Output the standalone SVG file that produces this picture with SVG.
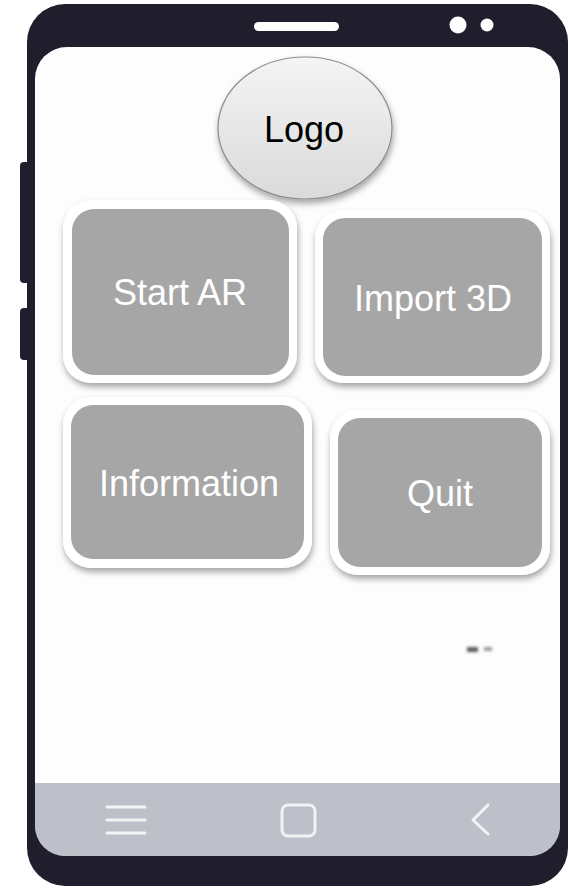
<svg xmlns="http://www.w3.org/2000/svg" width="569" height="888" viewBox="0 0 569 888">
  <defs>
    <linearGradient id="logoFill" x1="0" y1="0" x2="0" y2="1">
      <stop offset="0" stop-color="#f4f4f4"/>
      <stop offset="1" stop-color="#dadada"/>
    </linearGradient>
    <filter id="softShadow" x="-20%" y="-20%" width="140%" height="150%">
      <feDropShadow dx="1" dy="4" stdDeviation="3" flood-color="#000" flood-opacity="0.35"/>
    </filter>
    <filter id="smudge" x="-50%" y="-100%" width="200%" height="300%">
      <feGaussianBlur stdDeviation="1.5"/>
    </filter>
    <clipPath id="screenClip">
      <rect x="35" y="47" width="525" height="809" rx="30"/>
    </clipPath>
    <style>
      .frame { fill: #201e2c; }
      .btn-outer { fill: #ffffff; filter: url(#softShadow); }
      .btn-inner { fill: #a6a6a6; }
      .btn-label { font-family: "Liberation Sans", Arial, sans-serif; font-size: 36px; fill: #ffffff; text-anchor: middle; }
      .nav-icon { fill: none; stroke: #f2f3f5; stroke-width: 3; stroke-linecap: round; stroke-linejoin: round; }
    </style>
  </defs>

  <!-- phone body -->
  <g id="phone">
    <rect class="frame" x="20" y="162" width="12" height="121" rx="4"/>
    <rect class="frame" x="20" y="308" width="12" height="52" rx="4"/>
    <rect class="frame" x="27" y="4" width="541" height="882" rx="38"/>
    <rect x="254" y="22" width="85" height="9" rx="4.5" fill="#ffffff"/>
    <circle cx="458" cy="25" r="8.5" fill="#ffffff"/>
    <circle cx="487" cy="25" r="6.5" fill="#ffffff"/>
    <rect x="35" y="47" width="525" height="809" rx="32" fill="#fdfdfd"/>
    <g clip-path="url(#screenClip)">
      <rect x="35" y="783" width="525" height="80" fill="#bdc0c8"/>
    </g>
  </g>

  <!-- navigation bar icons -->
  <g id="nav-icons">
    <path class="nav-icon" d="M107 807 H145 M107 820 H145 M107 833 H145"/>
    <rect class="nav-icon" x="282" y="805" width="33" height="31" rx="6"/>
    <path class="nav-icon" d="M488 805 L473 820 L488 834"/>
  </g>

  <!-- small marks on screen -->
  <g id="marks" filter="url(#smudge)">
    <rect x="467" y="647" width="11" height="5" fill="#333" opacity="0.8"/>
    <rect x="484" y="647" width="8" height="4" fill="#555" opacity="0.6"/>
  </g>

  <!-- logo -->
  <g id="logo">
    <ellipse cx="305" cy="128" rx="87" ry="71" fill="url(#logoFill)" stroke="#8c8c8c" stroke-width="1.2" filter="url(#softShadow)"/>
    <text x="304" y="142" font-family="'Liberation Sans', Arial, sans-serif" font-size="36" fill="#000" text-anchor="middle">Logo</text>
  </g>

  <!-- menu buttons -->
  <g id="btn-start-ar">
    <rect class="btn-outer" x="63" y="200" width="234" height="183" rx="28"/>
    <rect class="btn-inner" x="72" y="209" width="217" height="166" rx="22"/>
    <text class="btn-label" x="180" y="305">Start AR</text>
  </g>

  <g id="btn-import-3d">
    <rect class="btn-outer" x="315" y="210" width="235" height="173" rx="28"/>
    <rect class="btn-inner" x="323" y="218" width="219" height="158" rx="22"/>
    <text class="btn-label" x="433" y="311">Import 3D</text>
  </g>

  <g id="btn-information">
    <rect class="btn-outer" x="63" y="397" width="249" height="171" rx="28"/>
    <rect class="btn-inner" x="71" y="405" width="233" height="154" rx="22"/>
    <text class="btn-label" x="189" y="496">Information</text>
  </g>

  <g id="btn-quit">
    <rect class="btn-outer" x="330" y="410" width="220" height="165" rx="28"/>
    <rect class="btn-inner" x="338" y="418" width="204" height="149" rx="22"/>
    <text class="btn-label" x="440" y="506">Quit</text>
  </g>

  <g id="connectors"/>
</svg>
